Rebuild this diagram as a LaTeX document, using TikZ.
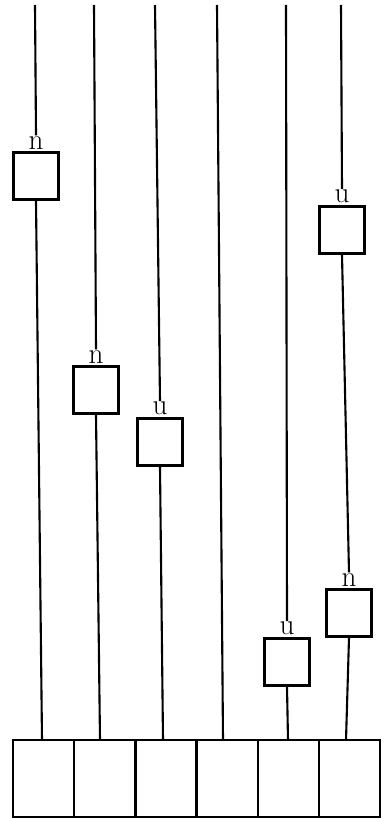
\documentclass[tikz,border=0pt]{standalone}
\usepackage{tikz}
\usetikzlibrary{positioning}

\begin{document}
\begin{tikzpicture}[x=0.03cm, y=-0.03cm,
    gate/.style={draw, line width=2.2pt, minimum width=1.35cm, minimum height=1.42cm, inner sep=0pt},
    cell/.style={draw, line width=2pt, minimum width=1.836cm, minimum height=2.31cm, inner sep=0pt, outer sep=0pt},
    lbl/.style={font=\Huge, inner sep=0.5pt},
    wire/.style={line width=1.8pt}]
  \useasboundingbox (0,0) rectangle (385,818);
  % bottom register
  \node[cell, anchor=north west] (c1) at (13,740) {};
  \node[cell, right=0pt of c1] (c2) {};
  \node[cell, right=0pt of c2] (c3) {};
  \node[cell, right=0pt of c3] (c4) {};
  \node[cell, right=0pt of c4] (c5) {};
  \node[cell, right=0pt of c5] (c6) {};
  % gates on the lanes
  \node[gate] (g1) at (36,176) {};
  \node[gate] (g2) at (96,390) {};
  \node[gate] (g3) at (160,442) {};
  \node[gate] (g5) at (287,662) {};
  \node[gate] (g6a) at (342,230) {};
  \node[gate] (g6b) at (349,613) {};
  \node[lbl, above=1pt of g1] (l1) {n};
  \node[lbl, above=1pt of g2] (l2) {n};
  \node[lbl, above=1pt of g3] (l3) {u};
  \node[lbl, above=1pt of g5] (l5) {u};
  \node[lbl, above=1pt of g6a] (l6a) {u};
  \node[lbl, above=1pt of g6b] (l6b) {n};
  % lane ends
  \coordinate (t1) at (35,5);  \coordinate (b1) at (42,740);
  \coordinate (t2) at (94,5);  \coordinate (b2) at (100,740);
  \coordinate (t3) at (155,5); \coordinate (b3) at (163,740);
  \coordinate (t4) at (217,5); \coordinate (b4) at (223,740);
  \coordinate (t5) at (286,5); \coordinate (b5) at (288,740);
  \coordinate (t6) at (341,5); \coordinate (b6) at (346,740);
  \draw[wire] (t1) -- (l1.north); \draw[wire] (g1.south) -- (b1);
  \draw[wire] (t2) -- (l2.north); \draw[wire] (g2.south) -- (b2);
  \draw[wire] (t3) -- (l3.north); \draw[wire] (g3.south) -- (b3);
  \draw[wire] (t4) -- (b4);
  \draw[wire] (t5) -- (l5.north); \draw[wire] (g5.south) -- (b5);
  \draw[wire] (t6) -- (l6a.north); \draw[wire] (g6a.south) -- (l6b.north);
  \draw[wire] (g6b.south) -- (b6);
\end{tikzpicture}
\end{document}
